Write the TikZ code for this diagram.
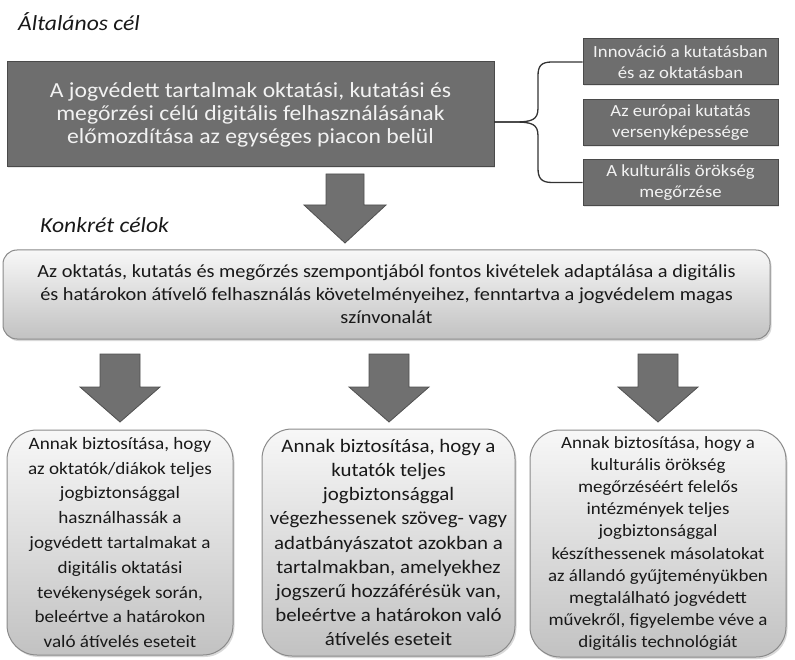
\documentclass[tikz,border=0pt]{standalone}
\usepackage{fontspec}
\setmainfont{Carlito}[FakeStretch=1.1]
\usetikzlibrary{shadows}
\definecolor{darkfill}{HTML}{6E6E6E}
\definecolor{darkline}{HTML}{4A4A4A}
\definecolor{lighttext}{HTML}{F2F2F2}
\definecolor{boxline}{HTML}{8A8A8A}
\definecolor{arrowfill}{HTML}{707070}
\definecolor{arrowline}{HTML}{505050}
\begin{document}
\begin{tikzpicture}[x=1pt,y=-1pt,
  darkbox/.style={draw=darkline, line width=1pt, fill=darkfill, text=lighttext, align=center, inner sep=0pt,
     drop shadow={shadow xshift=1pt, shadow yshift=-1.5pt, opacity=0.2}},
  lightbox/.style={draw=boxline, line width=1pt, top color=black!3, bottom color=black!24, text=black!90, align=center, inner sep=0pt,
     drop shadow={shadow xshift=1.5pt, shadow yshift=-2pt, opacity=0.3}},
  blockarrow/.style={draw=arrowline, line width=0.8pt, fill=arrowfill},
  bracepath/.style={draw=black!80, line width=1.3pt},
  heading/.style={anchor=base west, inner sep=0pt, font=\fontsize{21.5}{24}\selectfont\itshape, text=black!90},
  ]
\useasboundingbox (0,0) rectangle (795,660);

% headings
\node[heading] (t1) at (18,31) {Általános cél};
\node[heading] (t2) at (40,233) {Konkrét célok};

% general goal
\node[darkbox, minimum width=487pt, minimum height=105pt, font=\fontsize{21.5}{23}\selectfont] (goal) at (250.5,114.5)
  {A jogvédett tartalmak oktatási, kutatási és\\megőrzési célú digitális felhasználásának\\előmozdítása az egységes piacon belül};

% small boxes
\node[darkbox, minimum width=195pt, minimum height=46pt, font=\fontsize{17}{21}\selectfont] (s1) at (680.5,62)
  {Innováció a kutatásban\\és az oktatásban};
\node[darkbox, minimum width=195pt, minimum height=46pt, font=\fontsize{17}{21}\selectfont] (s2) at (680.5,122.5)
  {Az európai kutatás\\versenyképessége};
\node[darkbox, minimum width=195pt, minimum height=46pt, font=\fontsize{17}{21}\selectfont] (s3) at (680.5,182.5)
  {A kulturális örökség\\megőrzése};

% brace
\coordinate (bt) at (494,122);
\draw[bracepath] (bt) -- (514,122) .. controls (532,122) and (538,120) .. (538,108) -- (538,76)
   .. controls (538,66) and (541,62) .. (552,62) -- (s1.west);
\draw[bracepath] (bt) -- (514,122) .. controls (532,122) and (538,124) .. (538,136) -- (538,168)
   .. controls (538,178) and (541,182.5) .. (552,182.5) -- (s3.west);

% top block arrow
\path[blockarrow] (326,174) -- (364,174) -- (364,205) -- (386,205) -- (345,243) -- (304,205) -- (326,205) -- cycle;

% specific objective
\node[lightbox, rounded corners=14pt, minimum width=767pt, minimum height=89pt, font=\fontsize{18.5}{23}\selectfont] (spec) at (386.5,294.5)
  {Az oktatás, kutatás és megőrzés szempontjából fontos kivételek adaptálása a digitális\\és határokon átívelő felhasználás követelményeihez, fenntartva a jogvédelem magas\\színvonalát};

% lower block arrows
\foreach \cx in {120,389,658}{
  \path[blockarrow] (\cx-20,354) -- (\cx+20,354) -- (\cx+20,387) -- (\cx+40,387) -- (\cx,422) -- (\cx-40,387) -- (\cx-20,387) -- cycle;
}

% bottom boxes
\node[lightbox, rounded corners=30pt, minimum width=226pt, minimum height=225pt, font=\fontsize{17.4}{24.8}\selectfont] (b1) at (120,542.5)
  {Annak biztosítása, hogy\\az oktatók/diákok teljes\\jogbiztonsággal\\használhassák a\\jogvédett tartalmakat a\\digitális oktatási\\tevékenységek során,\\beleértve a határokon\\való átívelés eseteit};
\node[lightbox, rounded corners=30pt, minimum width=253pt, minimum height=227pt, font=\fontsize{19}{24.2}\selectfont] (b2) at (388.5,542.5)
  {Annak biztosítása, hogy a\\kutatók teljes\\jogbiztonsággal\\végezhessenek szöveg- vagy\\adatbányászatot azokban a\\tartalmakban, amelyekhez\\jogszerű hozzáférésük van,\\beleértve a határokon való\\átívelés eseteit};
\node[lightbox, rounded corners=30pt, minimum width=256pt, minimum height=227pt, font=\fontsize{17.2}{22.2}\selectfont] (b3) at (658,543.5)
  {Annak biztosítása, hogy a\\kulturális örökség\\megőrzéséért felelős\\intézmények teljes\\jogbiztonsággal\\készíthessenek másolatokat\\az állandó gyűjteményükben\\megtalálható jogvédett\\művekről, figyelembe véve a\\digitális technológiát};
\end{tikzpicture}
\end{document}
